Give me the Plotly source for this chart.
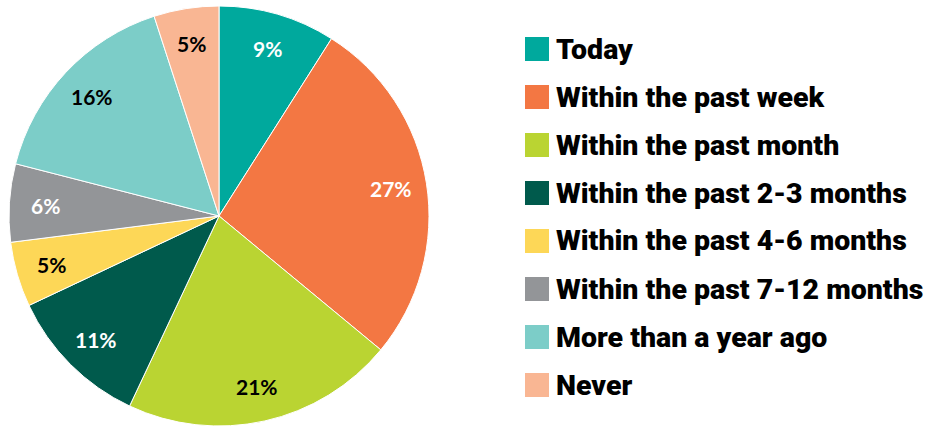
import numpy as np
import plotly.graph_objects as go

categories = ["Today", "Within the past week", "Within the past month",
              "Within the past 2-3 months", "Within the past 4-6 months",
              "Within the past 7-12 months", "More than a year ago", "Never"]
values = [9, 27, 21, 11, 5, 6, 16, 5]
colors = ["#00A99D", "#F37743", "#BAD432", "#005A4C", "#FDD757",
          "#939598", "#7CCDC8", "#F9B693"]
label_colors = ["white", "white", "black", "white", "black", "white", "black", "black"]

W, H = 930, 426

fig = go.Figure()
fig.add_trace(go.Pie(
    labels=categories,
    values=values,
    sort=False,
    direction="clockwise",
    rotation=0,
    marker=dict(colors=colors, line=dict(color="white", width=1)),
    textinfo="none",
    domain=dict(x=[9 / W, 429 / W], y=[0, 420 / H]),
    showlegend=False,
    hoverinfo="label+value",
))

# slice labels, placed at each slice's mid-angle
cx, cy, R = 219, 216, 210
vals = np.array(values, dtype=float)
mid = (np.cumsum(vals) - vals / 2) / vals.sum() * 2 * np.pi
for v, a, c in zip(values, mid, label_colors):
    r = 0.83 * R
    fig.add_annotation(xref="paper", yref="paper",
                       x=(cx + r * np.sin(a)) / W, y=1 - (cy - r * np.cos(a)) / H,
                       xanchor="center", yanchor="middle",
                       text=f"{v}%", showarrow=False,
                       font=dict(family="Lato", size=21, color=c, weight="bold"))

# legend: swatches + text
x0 = 525
y_first = 49
gap = 48
for i, (cat, col) in enumerate(zip(categories, colors)):
    yc = y_first + i * gap
    fig.add_shape(type="rect", xref="paper", yref="paper",
                  x0=x0 / W, x1=(x0 + 24) / W,
                  y0=1 - (yc + 12) / H, y1=1 - (yc - 12) / H,
                  fillcolor=col, line=dict(width=0))
    fig.add_annotation(xref="paper", yref="paper", x=554 / W, y=1 - yc / H,
                       xanchor="left", yanchor="middle", showarrow=False,
                       text=cat,
                       font=dict(family="Roboto", size=28.5, color="black", weight=900))

fig.update_layout(width=W, height=H, margin=dict(l=0, r=0, t=0, b=0),
                  paper_bgcolor="white", plot_bgcolor="white")
fig.write_html("out.html", config={"displayModeBar": False},
               post_script="document.body.style.margin='0';")
